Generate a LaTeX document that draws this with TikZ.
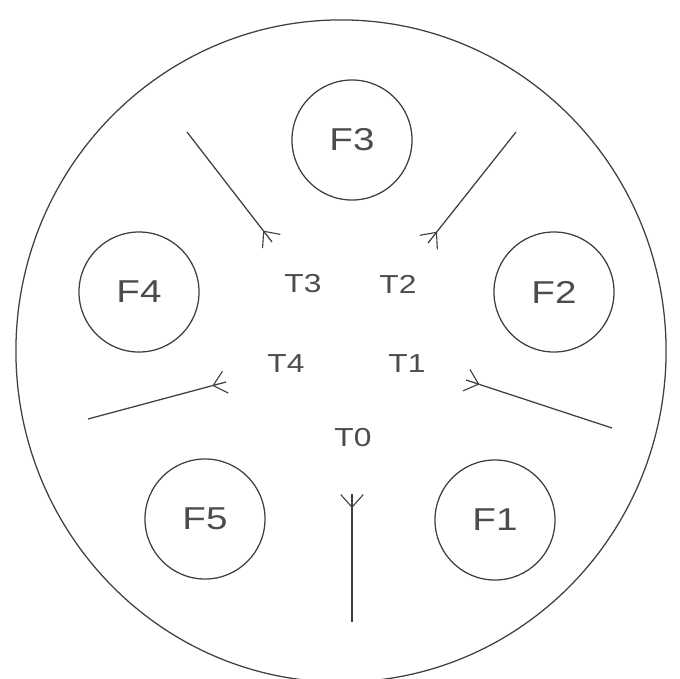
\documentclass[tikz,border=0pt]{standalone}
\usepackage{fontspec}
\newfontfamily\plotfont[FakeStretch=1.22]{Liberation Sans}
\usetikzlibrary{arrows.meta, decorations.markings}

\begin{document}
\begin{tikzpicture}[
        x=0.025cm, y=-0.025cm,
        every node/.style={text=black!70},
        fork/.style={circle, draw=black!75, line width=0.9pt, minimum size=3cm, font=\plotfont\fontsize{22.5}{24}\selectfont},
        tlabel/.style={font=\plotfont\fontsize{18.5}{20}\selectfont},
        feed/.style={draw=black!75, line width=0.9pt, postaction={decorate}, decoration={markings, mark=at position 1 with {\arrow{Straight Barb[reversed, length=9pt, width=16pt, line width=0.8pt]}}}}
    ]
    \useasboundingbox (0,0) rectangle (680,679);
    \draw[black!75, line width=0.9pt] (341,351) ellipse [x radius=8.125cm, y radius=8.275cm];

    % outer forks
    \node[fork] (f1) at (495,520) {F1};
    \node[fork] (f2) at (554,292) {F2};
    \node[fork] (f3) at (352,140) {F3};
    \node[fork] (f4) at (139,292) {F4};
    \node[fork] (f5) at (205,519) {F5};

    % inner labels
    \node[tlabel] (t0) at (353,438) {T0};
    \node[tlabel] (t1) at (407,364) {T1};
    \node[tlabel] (t2) at (398,284) {T2};
    \node[tlabel] (t3) at (303,284) {T3};
    \node[tlabel] (t4) at (286,364) {T4};

    % feed lines
    \coordinate (q0) at (352,622);  \coordinate (p0) at (352,494);
    \coordinate (q1) at (612,428);  \coordinate (p1) at (466,380);
    \coordinate (q2) at (516,132);  \coordinate (p2) at (428,243);
    \coordinate (q3) at (187,132);  \coordinate (p3) at (272,242);
    \coordinate (q4) at (88,419);   \coordinate (p4) at (226,382);
    \foreach \i in {0,...,4}
        \draw[feed] (q\i) -- (p\i);
\end{tikzpicture}
\end{document}
